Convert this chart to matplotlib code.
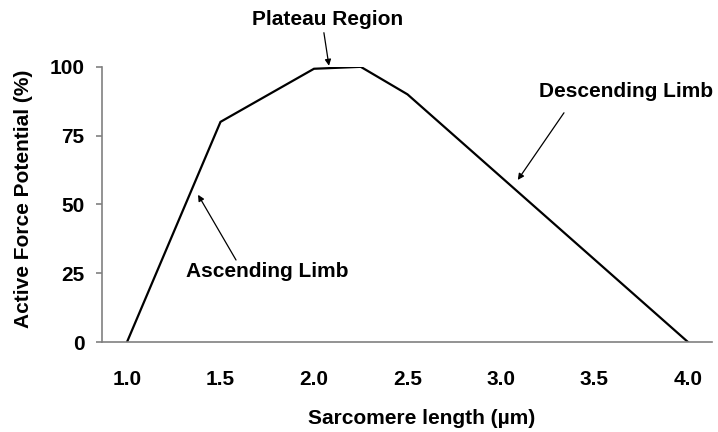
import matplotlib
matplotlib.use("Agg")
import matplotlib.pyplot as plt

# sarcomere length (um) vs active force potential (%)
length_um = [1.0, 1.5, 2.0, 2.25, 2.5, 3.0, 3.5, 4.0]
force_pct = [0, 80, 99.3, 100, 90, 60, 30, 0]

x_ticks = [1.0, 1.5, 2.0, 2.5, 3.0, 3.5, 4.0]
y_ticks = [0, 25, 50, 75, 100]

plt.rcParams['font.family'] = ['Liberation Sans', 'DejaVu Sans']
plt.rcParams['font.weight'] = 'bold'

fig = plt.figure(figsize=(7.18, 4.32), dpi=100)
ax = fig.add_axes([0.142, 0.2083, 0.85, 0.637])

ax.plot(length_um, force_pct, color='black', lw=1.6, solid_joinstyle='miter')

ax.set_xlim(0.866, 4.13)
ax.set_ylim(0, 100)

ax.set_xticks(x_ticks)
ax.set_xticklabels(['%.1f' % v for v in x_ticks])
ax.set_yticks(y_ticks)

ax.spines['top'].set_visible(False)
ax.spines['right'].set_visible(False)
for s in ['left', 'bottom']:
    ax.spines[s].set_color('#808080')
    ax.spines[s].set_linewidth(1.2)

ax.tick_params(axis='x', length=0, pad=20, labelsize=15)
ax.tick_params(axis='y', length=4.5, width=1.2, color='#808080', pad=8, labelsize=15)
for lab in ax.get_xticklabels() + ax.get_yticklabels():
    lab.set_fontweight('bold')

ax.set_xlabel('Sarcomere length (µm)', fontsize=15, fontweight='bold')
ax.set_ylabel('Active Force Potential (%)', fontsize=15, fontweight='bold')
ax.xaxis.set_label_coords(0.523, -0.245)
ax.yaxis.set_label_coords(-0.113, 0.52)

arrow = dict(arrowstyle='-|>', color='black', lw=0.9, mutation_scale=9, shrinkA=0, shrinkB=0)
ax.annotate('', xy=(2.08, 100.4), xytext=(2.053, 112.4), arrowprops=arrow, annotation_clip=False)
ax.text(2.075, 117.2, 'Plateau Region', ha='center', va='center', fontsize=15, fontweight='bold')

ax.annotate('', xy=(3.09, 58.9), xytext=(3.337, 83.3), arrowprops=arrow, annotation_clip=False)
ax.text(3.668, 90.9, 'Descending Limb', ha='center', va='center', fontsize=15, fontweight='bold')

ax.annotate('', xy=(1.38, 53.5), xytext=(1.583, 29.8), arrowprops=arrow, annotation_clip=False)
ax.text(1.749, 25.5, 'Ascending Limb', ha='center', va='center', fontsize=15, fontweight='bold')

fig.savefig('out.png', dpi=100)
